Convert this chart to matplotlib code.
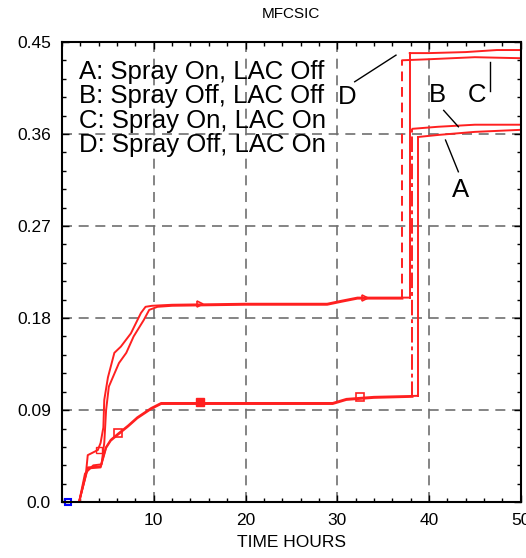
import numpy as np
import matplotlib
matplotlib.use('Agg')
import matplotlib.pyplot as plt

plt.rcParams['font.family'] = ['Liberation Sans', 'DejaVu Sans']

# curve data (time in hours, value)
# C: Spray On, LAC On  (upper plateau, top line)
c_x = [0, 1.85, 2.6, 2.8, 3.9, 4.2, 4.5, 4.6, 5.0, 5.7, 6.4, 7.5, 8.6, 9.1, 9.8, 12, 20, 28.9, 30.5, 32.2, 37.9,
       37.9, 40, 44, 47.4, 50]
c_y = [0, 0, 0.028, 0.046, 0.051, 0.058, 0.073, 0.1, 0.122, 0.146, 0.152, 0.165, 0.185, 0.191, 0.192, 0.193, 0.194,
       0.194, 0.197, 0.2, 0.2, 0.439, 0.439, 0.440, 0.442, 0.442]
# D: Spray Off, LAC On (upper plateau, dashed jump)
d_x = [0, 1.85, 2.5, 3.4, 4.3, 4.6, 4.8, 5.1, 6.2, 7.0, 7.8, 8.9, 9.5, 10.4, 12, 20, 28.9, 30.5, 32.2, 37.1,
       37.1, 40, 45, 50]
d_y = [0, 0, 0.028, 0.036, 0.037, 0.058, 0.09, 0.113, 0.136, 0.146, 0.162, 0.178, 0.188, 0.191, 0.192, 0.193,
       0.193, 0.196, 0.199, 0.199, 0.432, 0.433, 0.435, 0.434]
# A: Spray On, LAC Off (lower plateau, final lower line)
a_x = [0, 1.85, 2.8, 4.2, 4.8, 5.3, 6.1, 7.2, 8.2, 9.7, 10.8, 20, 29.5, 31, 34, 38.8,
       38.8, 41, 45, 50]
a_y = [0, 0, 0.034, 0.035, 0.054, 0.061, 0.067, 0.075, 0.083, 0.092, 0.097, 0.097, 0.097, 0.101, 0.103, 0.104,
       0.357, 0.359, 0.362, 0.364]
# B: Spray Off, LAC Off (lower plateau, final upper line)
b_x = [0, 1.85, 2.8, 4.2, 4.8, 5.3, 6.1, 7.2, 8.2, 9.7, 10.8, 20, 29.5, 31, 34, 38.2,
       38.2, 41, 45, 50]
b_y = [0, 0, 0.033, 0.034, 0.053, 0.060, 0.066, 0.074, 0.082, 0.091, 0.096, 0.096, 0.096, 0.100, 0.102, 0.103,
       0.365, 0.367, 0.369, 0.369]

legend_lines = ['A: Spray On, LAC Off', 'B: Spray Off, LAC Off',
                'C: Spray On, LAC On', 'D: Spray Off, LAC On']

yticks = [0.0, 0.09, 0.18, 0.27, 0.36, 0.45]
ytick_labels = ['0.0', '0.09', '0.18', '0.27', '0.36', '0.45']
xticks = [10, 20, 30, 40, 50]

red = '#ff2020'

fig = plt.figure(figsize=(5.26, 5.58), dpi=100)
ax = fig.add_axes([0.118, 0.100, 0.872, 0.825])


def draw(x, y, jump_style):
    # the jump (vertical step) is drawn in its own style, the rest solid
    x = np.array(x)
    y = np.array(y)
    j = int(np.argmax(np.diff(y) > 0.1))
    ax.plot(x[:j + 1], y[:j + 1], color=red, lw=1.4)
    ax.plot(x[j:j + 2], y[j:j + 2], color=red, lw=1.4, ls=jump_style)
    ax.plot(x[j + 1:], y[j + 1:], color=red, lw=1.4)


draw(c_x, c_y, '-')
draw(d_x, d_y, (0, (5, 3)))
draw(a_x, a_y, '-')
draw(b_x, b_y, (0, (8, 2, 2, 2)))

# symbols on the curves
ax.plot([6.1, 32.5], [0.068, 0.103], 's', mfc='none', mec=red, ms=6, mew=1.2)
ax.plot([15], [0.098], 's', color=red, ms=6)
ax.plot([15, 33], [0.194, 0.200], '>', mfc='none', mec=red, ms=5, mew=1.2)
ax.plot([4.0], [0.051], 's', mfc='none', mec=red, ms=5, mew=1.0)
ax.plot([0.7], [0.0], 's', mfc='none', mec='blue', ms=5, mew=1.5, clip_on=False)

# legend as plain text
for i, s in enumerate(legend_lines):
    ax.text(1.9, 0.4207 - i * 0.0238, s, fontsize=18.5, va='center', ha='left')

# curve labels with leader lines
ax.text(31.1, 0.396, 'D', fontsize=18.5, ha='center', va='center')
ax.plot([31.9, 36.4], [0.411, 0.437], color='black', lw=1)
ax.text(40.9, 0.398, 'B', fontsize=18.5, ha='center', va='center')
ax.plot([41.6, 43.2], [0.383, 0.367], color='black', lw=1)
ax.text(45.2, 0.398, 'C', fontsize=18.5, ha='center', va='center')
ax.plot([46.6, 46.6], [0.402, 0.430], color='black', lw=1)
ax.text(43.4, 0.305, 'A', fontsize=18.5, ha='center', va='center')
ax.plot([43.2, 41.8], [0.323, 0.354], color='black', lw=1)

ax.set_xlim(0, 50)
ax.set_ylim(0, 0.45)
ax.set_xticks(xticks)
ax.set_xticks(np.arange(0, 51, 2), minor=True)
ax.set_yticks(yticks)
ax.set_yticklabels(ytick_labels)
ax.set_yticks(np.arange(0, 0.451, 0.018), minor=True)
ax.tick_params(which='both', direction='in', top=True, right=True, labelsize=12.5, pad=8)
ax.tick_params(which='major', length=5, width=1)
ax.tick_params(which='minor', length=3, width=1)
ax.grid(True, which='major', color='#707070', ls=(0, (6, 4)), lw=1.2)
for sp in ax.spines.values():
    sp.set_linewidth(1.5)

ax.set_title('MFCSIC', fontsize=11, pad=17)
ax.set_xlabel('TIME HOURS', fontsize=12.5, labelpad=5)

fig.savefig('out.png', dpi=100)
